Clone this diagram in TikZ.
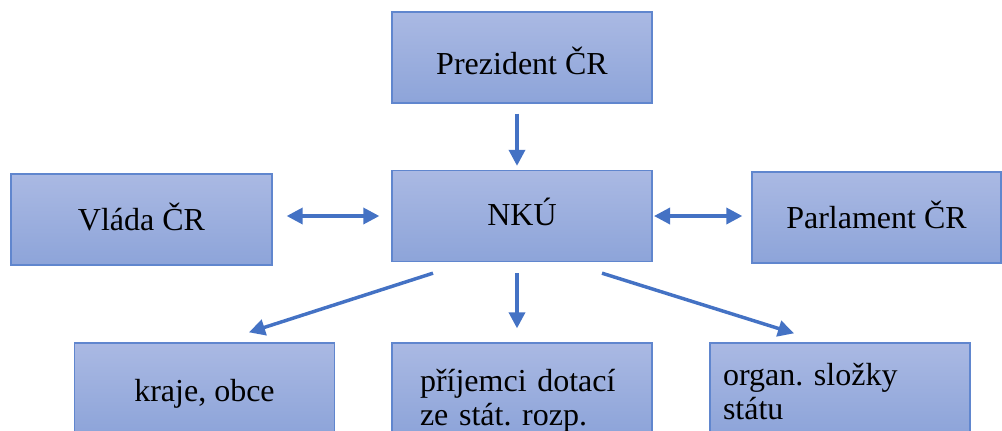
\documentclass[tikz,border=0pt]{standalone}
\usepackage{fontspec}
\setmainfont{Liberation Serif}
\usetikzlibrary{arrows.meta}

\definecolor{boxtop}{RGB}{170,185,227}
\definecolor{boxbottom}{RGB}{141,164,217}
\definecolor{boxline}{RGB}{96,134,206}
\definecolor{arrowblue}{RGB}{68,114,196}

\begin{document}
\begin{tikzpicture}[x=0.75pt,y=-0.75pt,
		orgbox/.style={draw=boxline, line width=1pt, top color=boxtop, bottom color=boxbottom,
			minimum width=195pt, minimum height=68.25pt, inner sep=0pt,
			font=\fontsize{24}{25.5}\selectfont\frenchspacing, text height=17pt, text depth=0pt},
		link/.style={draw=arrowblue, line width=2.6pt, -{Triangle[length=12pt,width=12pt]}},
		both/.style={link, {Triangle[length=12pt,width=12pt]}-{Triangle[length=12pt,width=12pt]}}]
			\useasboundingbox (0,0) rectangle (1002,430);

			% Top and middle row
			\node[orgbox, text height=25.5pt] (prezident) at (522,57.5) {Prezident ČR};
			\node[orgbox, text height=13.5pt] (nku) at (522,216) {NKÚ};
			\node[orgbox, minimum width=195.75pt] (vlada) at (141.5,219.5) {Vláda ČR};
			\node[orgbox, minimum width=186.75pt] (parlament) at (876.5,217.5) {Parlament ČR};

			% Bottom row
			\node[orgbox, text height=18.75pt] (kraje) at (204.5,388.5) {kraje, obce};
			\node[orgbox, align=left, text width=153pt, text depth=13.25pt] (prijemci) at (522,388.5) {příjemci dotací\\ze stát. rozp.};
			\node[orgbox, align=left, text width=175.5pt, text depth=22.25pt] (organ) at (840,388.5) {organ. složky\\státu};

			% Arrows
			\draw[link, shorten <=7.5pt, shorten >=3pt] ([shift={(-5,0)}]prezident.south) -- ([shift={(-5,0)}]nku.north);
			\draw[both, shorten <=10.5pt, shorten >=9pt] (vlada.east |- nku.west) -- (nku.west);
			\draw[both, shorten <=1pt, shorten >=6.75pt] (nku.east) -- (nku.east -| parlament.west);
			\draw[link] ([shift={(-89,11)}]nku.south) -- ([shift={(44.5,-10)}]kraje.north);
			\draw[link] ([shift={(-5,11)}]nku.south) -- ([shift={(-5,-14)}]prijemci.north);
			\draw[link] ([shift={(80,11)}]nku.south) -- ([shift={(-46,-9)}]organ.north);

		\end{tikzpicture}
\end{document}
